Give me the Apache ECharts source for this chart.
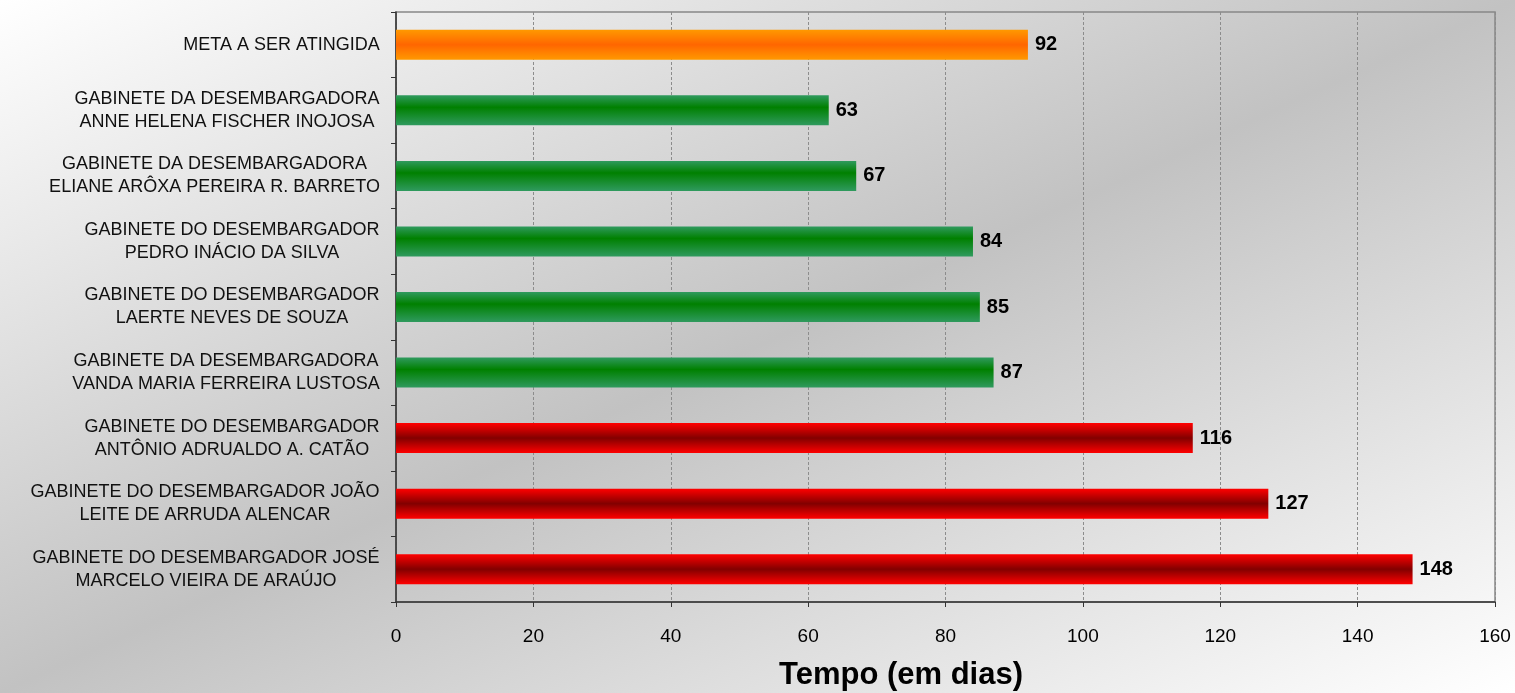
<!DOCTYPE html>
<html>
<head>
<meta charset="utf-8">
<script src="https://cdn.jsdelivr.net/npm/echarts@6/dist/echarts.min.js"></script>
<style>
  html, body { margin: 0; padding: 0; }
  body {
    width: 1515px; height: 693px; overflow: hidden;
    background: linear-gradient(to bottom right, #ffffff 0%, #c2c2c2 50%, #ffffff 100%);
  }
  #chart { width: 1515px; height: 693px; }
</style>
</head>
<body>
<div id="chart"></div>
<script>
// categorias (de cima para baixo)
var categorias = [
  'META A SER ATINGIDA',
  'GABINETE DA DESEMBARGADORA\nANNE HELENA FISCHER INOJOSA',
  'GABINETE DA DESEMBARGADORA\nELIANE ARÔXA PEREIRA R. BARRETO',
  'GABINETE DO DESEMBARGADOR\nPEDRO INÁCIO DA SILVA',
  'GABINETE DO DESEMBARGADOR\nLAERTE NEVES DE SOUZA',
  'GABINETE DA DESEMBARGADORA\nVANDA MARIA FERREIRA LUSTOSA',
  'GABINETE DO DESEMBARGADOR\nANTÔNIO ADRUALDO A. CATÃO',
  'GABINETE DO DESEMBARGADOR JOÃO\nLEITE DE ARRUDA ALENCAR',
  'GABINETE DO DESEMBARGADOR JOSÉ\nMARCELO VIEIRA DE ARAÚJO'
];
var dias = [92, 63, 67, 84, 85, 87, 116, 127, 148];
var ticksX = [0, 20, 40, 60, 80, 100, 120, 140, 160];

var meta = dias[0];
var fonteRotulo = '"Liberation Sans", Arial, sans-serif';

// gradientes das barras
function grad(borda, meio, pos) {
  return new echarts.graphic.LinearGradient(0, 0, 0, 1, [
    { offset: 0, color: borda },
    { offset: pos, color: meio },
    { offset: 1, color: borda }
  ]);
}
var corMeta = grad('#ff9900', '#ff6600', 0.5);
var corVerde = grad('#2f9a5e', '#008000', 0.4);
var corVermelha = grad('#ff0000', '#820000', 0.5);

var barras = dias.map(function (v, i) {
  var c = i === 0 ? corMeta : (v <= meta ? corVerde : corVermelha);
  return { value: v, itemStyle: { color: c } };
});

// largura de cada rótulo, para centralizar as linhas
var cv = document.createElement('canvas').getContext('2d');
cv.font = '18px ' + fonteRotulo;
var rich = {};
categorias.forEach(function (c, i) {
  var w = 0;
  c.split('\n').forEach(function (l) { w = Math.max(w, cv.measureText(l).width); });
  rich['l' + i] = {
    width: Math.ceil(w), align: 'center', lineHeight: 23,
    fontSize: 18, color: '#111', fontFamily: fonteRotulo
  };
});

var mchart = echarts.init(document.getElementById('chart'));
var option = {
  backgroundColor: 'transparent',
  animation: false,
  title: {
    text: 'Tempo (em dias)',
    left: 774, top: 655,
    textStyle: { fontSize: 31, fontWeight: 'bold', color: '#000', fontFamily: '"Liberation Sans", Arial, sans-serif' }
  },
  grid: {
    left: 396, right: 20, top: 12, bottom: 91,
    show: true, borderColor: '#888', borderWidth: 1.5, backgroundColor: 'transparent'
  },
  xAxis: {
    type: 'value', min: 0, max: 160, interval: 20,
    axisLine: { show: true, lineStyle: { color: '#333', width: 1.5 } },
    axisTick: { show: true, length: 5, lineStyle: { color: '#333' } },
    axisLabel: {
      margin: 25, fontSize: 19, color: '#000',
      fontFamily: '"Liberation Sans", Arial, sans-serif',
      formatter: function (v) { return ticksX.indexOf(v) >= 0 ? String(v) : ''; }
    },
    splitLine: { show: true, lineStyle: { color: '#8c8c8c', width: 1, type: [3, 2] } }
  },
  yAxis: {
    type: 'category', inverse: true, data: categorias,
    axisLine: { show: true, lineStyle: { color: '#333', width: 1.5 } },
    axisTick: { show: true, length: 5, lineStyle: { color: '#333' } },
    axisLabel: {
      margin: 16, align: 'right',
      formatter: function (v) {
        var i = categorias.indexOf(v);
        return v.split('\n').map(function (l) { return '{l' + i + '|' + l + '}'; }).join('\n');
      },
      rich: rich
    },
    splitLine: { show: false }
  },
  series: [{
    type: 'bar',
    data: barras,
    barWidth: 30,
    label: {
      show: true, position: 'right', distance: 7,
      fontSize: 20, fontWeight: 'bold', color: '#000',
      fontFamily: '"Liberation Sans", Arial, sans-serif'
    }
  }]
};
mchart.setOption(option);
</script>
</body>
</html>
